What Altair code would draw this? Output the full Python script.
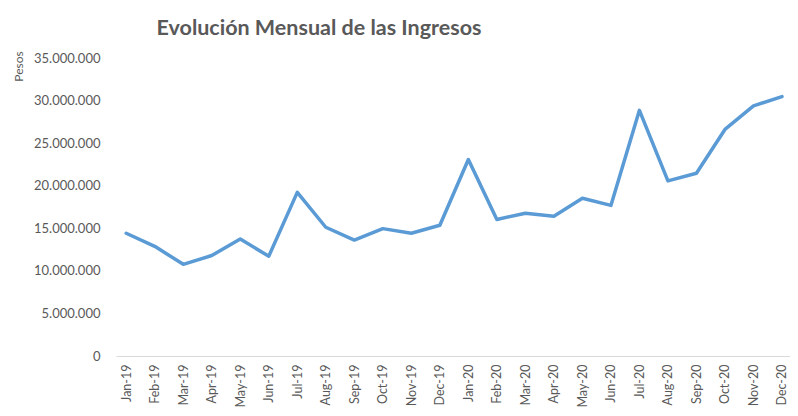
import altair as alt
import pandas as pd

months = ["Jan-19", "Feb-19", "Mar-19", "Apr-19", "May-19", "Jun-19",
          "Jul-19", "Aug-19", "Sep-19", "Oct-19", "Nov-19", "Dec-19",
          "Jan-20", "Feb-20", "Mar-20", "Apr-20", "May-20", "Jun-20",
          "Jul-20", "Aug-20", "Sep-20", "Oct-20", "Nov-20", "Dec-20"]
ingresos = [14420000, 12880000, 10770000, 11800000, 13730000, 11720000,
            19220000, 15120000, 13620000, 14960000, 14420000, 15350000,
            23080000, 16040000, 16770000, 16420000, 18530000, 17690000,
            28850000, 20570000, 21460000, 26610000, 29380000, 30460000]
y_ticks = [0, 5000000, 10000000, 15000000, 20000000, 25000000, 30000000, 35000000]

df = pd.DataFrame({"Mes": months, "Ingresos": ingresos})

grey = "#595959"
fmt = "replace(replace(format(datum.value, ',d'), ',', '.'), ',', '.')"

chart = alt.Chart(df).mark_line(
    color="#5b9bd5", strokeWidth=3.5, strokeJoin="round", strokeCap="round"
).encode(
    x=alt.X("Mes:N", sort=months,
            scale=alt.Scale(type="point", padding=0.32, align=0.56),
            axis=alt.Axis(title=None, labelAngle=-90, ticks=False, labelPadding=8,
                          domainColor="#d9d9d9", domainWidth=1, grid=False,
                          labelFont="Lato", labelFontSize=12.5, labelColor=grey)),
    y=alt.Y("Ingresos:Q", scale=alt.Scale(domain=[0, 35000000], nice=False),
            axis=alt.Axis(title="Pesos", values=y_ticks, labelExpr=fmt,
                          domain=False, ticks=False, grid=False, labelPadding=16,
                          labelFont="Lato", labelFontSize=13, labelColor=grey,
                          titleX=-98, titleY=8, titleAngle=-90, titleAlign="center",
                          titleBaseline="middle", titleFont="Lato", titleFontSize=12,
                          titleFontWeight="normal", titleColor=grey))
).properties(
    width=674, height=298,
    autosize=alt.AutoSizeParams(type="none"),
    padding={"left": 108, "top": 50, "right": 0, "bottom": 52},
    title=alt.TitleParams("Evolución Mensual de las Ingresos", font="Lato", fontSize=21.5,
                          fontWeight="bold", color=grey, anchor="middle", dx=-134, offset=11)
).configure_view(stroke=None)

chart.save("out.html", embed_options={"renderer": "svg", "actions": False})
